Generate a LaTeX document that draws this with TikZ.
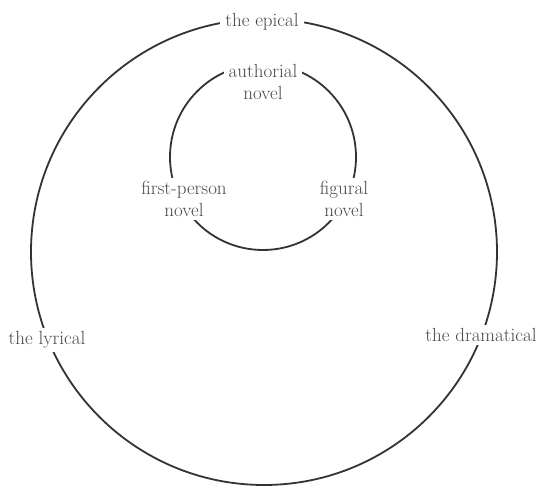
\documentclass[tikz,border=0pt]{standalone}
\definecolor{linegray}{HTML}{333333}
\definecolor{textgray}{HTML}{484848}
\begin{document}
\begin{tikzpicture}[x=1pt,y=1pt,
  ring/.style={draw=linegray, line width=1.8pt},
  lbl/.style={fill=white, text=textgray, font=\fontsize{19}{22}\selectfont, align=center, inner xsep=5pt, inner ysep=3pt}]
\useasboundingbox (0,0) rectangle (539,487);
\fill[white] (0,0) rectangle (539,487);
\draw[ring] (264,235) circle (233);
\draw[ring] (263,330) circle (93);
\node[lbl] (epical) at (262,465) {the epical};
\node[lbl] (lyrical) at (47,147) {the lyrical};
\node[lbl] (dramatical) at (481,152) {the dramatical};
\node[lbl] (authorial) at (263,405) {authorial\\novel};
\node[lbl] (firstperson) at (184,288) {first-person\\novel};
\node[lbl] (figural) at (344,288) {figural\\novel};
\end{tikzpicture}
\end{document}
